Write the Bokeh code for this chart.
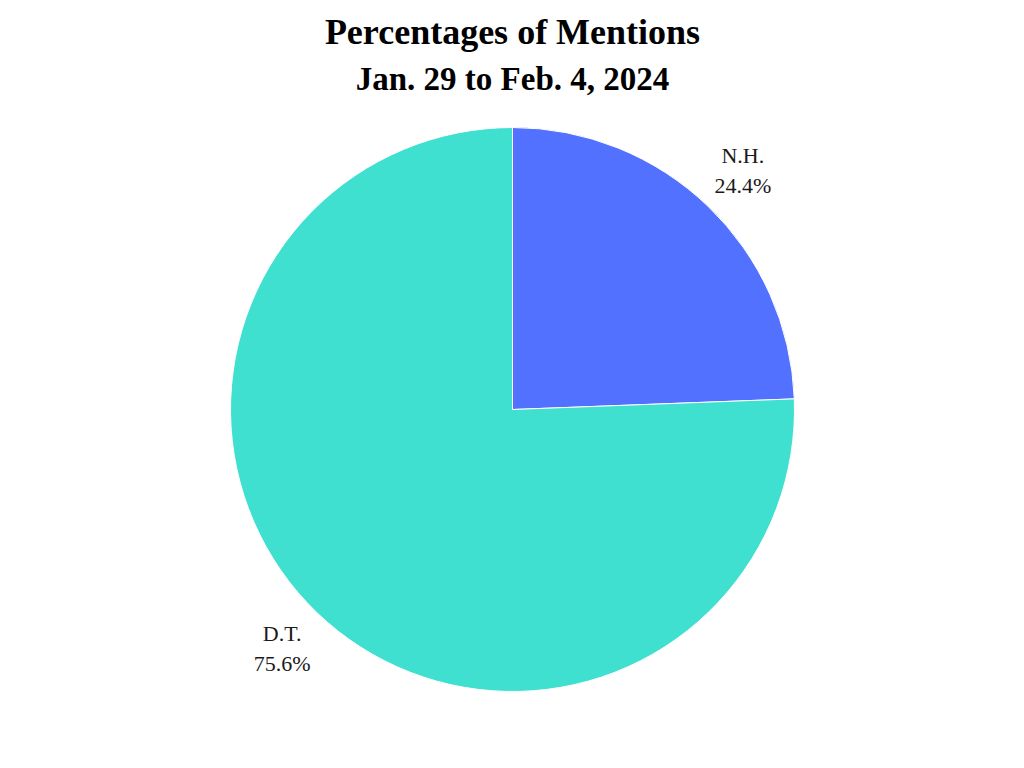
import math
from bokeh.plotting import figure
from bokeh.models import Range1d, Label, ColumnDataSource
from bokeh.core.properties import value
from bokeh.embed import file_html
from bokeh.resources import INLINE

# Data
labels = ["N.H.", "D.T."]
percents = [24.4, 75.6]
colors = ["#5271FF", "#40E0D0"]
title_text = "Percentages of Mentions"
subtitle_text = "Jan. 29 to Feb. 4, 2024"

W, H = 1008, 752
p = figure(width=W, height=H, output_backend="svg", toolbar_location=None,
           x_range=Range1d(-512, 496), y_range=Range1d(-343, 409),
           min_border=0, outline_line_color=None)
p.axis.visible = False
p.grid.visible = False
p.background_fill_color = "white"
p.border_fill_color = "white"

R = 282
label_r = 332
start, end, mids = [], [], []
a = math.pi / 2
for pc in percents:
    s = a
    e = a - 2 * math.pi * pc / 100.0
    start.append(s)
    end.append(e)
    mids.append((s + e) / 2)
    a = e

src = ColumnDataSource(dict(
    x=[0] * len(labels), y=[0] * len(labels), start=start, end=end,
    color=colors, lab=labels, pct=[f"{v:.1f}%" for v in percents],
    lx=[label_r * math.cos(m) for m in mids],
    ly=[label_r * math.sin(m) for m in mids],
))

p.wedge(x="x", y="y", radius=R, start_angle="start", end_angle="end",
        direction="clock", fill_color="color", line_color="white",
        line_width=1, source=src)

p.text(x="lx", y="ly", text="lab", source=src, text_align="center",
       text_baseline="middle", y_offset=-15, text_font=value("Liberation Serif"),
       text_font_size="22px", text_color="#1a1a1a")
p.text(x="lx", y="ly", text="pct", source=src, text_align="center",
       text_baseline="middle", y_offset=15, text_font=value("Liberation Serif"),
       text_font_size="22px", text_color="#1a1a1a")

p.add_layout(Label(x=512, y=H - 31, x_units="screen", y_units="screen",
                   text=title_text, text_align="center", text_baseline="middle",
                   text_font="Liberation Serif", text_font_style="bold",
                   text_font_size="36px", text_color="#000000"))
p.add_layout(Label(x=512, y=H - 78, x_units="screen", y_units="screen",
                   text=subtitle_text, text_align="center", text_baseline="middle",
                   text_font="Liberation Serif", text_font_style="bold",
                   text_font_size="33px", text_color="#000000"))

open("out.html", "w").write(file_html(p, INLINE))
